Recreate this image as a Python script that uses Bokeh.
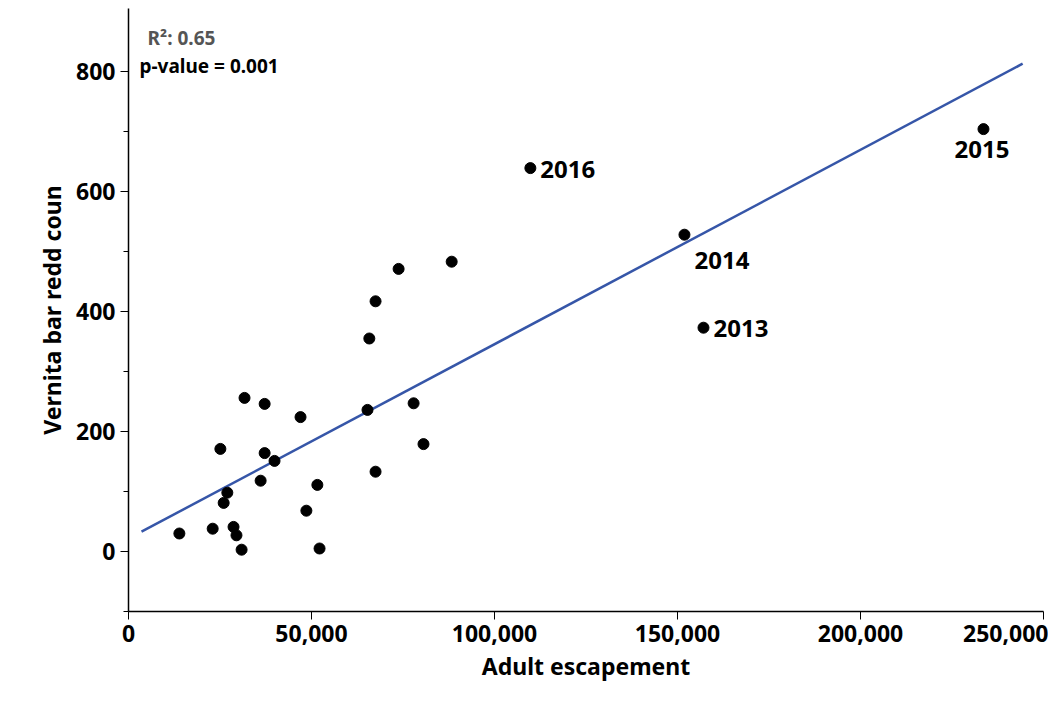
from bokeh.plotting import figure
from bokeh.models import Label, NumeralTickFormatter, FixedTicker, Range1d
from bokeh.embed import file_html
from bokeh.resources import INLINE

# escapement vs redd counts
esc = [13900, 23000, 25100, 26000, 27000, 28700, 29500, 30900, 31700, 36100,
       37200, 37200, 39900, 47000, 48600, 51600, 52200, 65300, 65800, 67500,
       67500, 73800, 77900, 80600, 88300, 109800, 151900, 157100, 233600]
redds = [30, 38, 171, 81, 98, 41, 27, 3, 256, 118,
         246, 164, 151, 224, 68, 111, 5, 236, 355, 417,
         133, 471, 247, 179, 483, 639, 528, 373, 704]

fit_x = [3550, 244300]
fit_y = [33, 813]

years = ["2016", "2014", "2013", "2015"]
year_x = [109800, 151900, 157100, 233600]
year_y = [639, 528, 373, 704]
FONT = "Noto Sans"

p = figure(width=1048, height=690, output_backend="svg", toolbar_location=None,
           x_range=Range1d(0, 250000), y_range=Range1d(-100, 905),
           min_border_left=128, min_border_right=5, min_border_top=8, min_border_bottom=79)
p.outline_line_color = None
p.grid.visible = False

p.line(fit_x, fit_y, line_color="#3656a8", line_width=2.5)
p.scatter(esc, redds, size=11, color="black")

offsets = [(10, -1), (10, -26), (10, -1), (-29, -20)]
for t, x, y, (dx, dy) in zip(years, year_x, year_y, offsets):
    p.add_layout(Label(x=x, y=y, x_offset=dx, y_offset=dy, text=t, text_font=FONT,
                       text_font_style="bold", text_font_size="24px", text_baseline="middle",
                       text_color="black"))

p.add_layout(Label(x=5200, y=856, text="R²: 0.65", text_font=FONT, text_font_style="bold",
                   text_font_size="19px", text_color="#555555", text_baseline="middle"))
p.add_layout(Label(x=3000, y=810, text="p-value = 0.001", text_font=FONT, text_font_style="bold",
                   text_font_size="19px", text_color="black", text_baseline="middle"))

p.xaxis.ticker = FixedTicker(ticks=[0, 50000, 100000, 150000, 200000, 250000])
p.xaxis.formatter = NumeralTickFormatter(format="0,0")
p.yaxis.ticker = FixedTicker(ticks=[0, 200, 400, 600, 800],
                             minor_ticks=[-100, 100, 300, 500, 700])
p.xaxis.axis_label = "Adult escapement"
p.yaxis.axis_label = "Vernita bar redd coun"
for ax in (p.xaxis, p.yaxis):
    ax.axis_label_text_font = FONT
    ax.axis_label_text_font_style = "bold"
    ax.axis_label_text_font_size = "23px"
    ax.axis_label_text_color = "black"
    ax.major_label_text_font = FONT
    ax.major_label_text_font_style = "bold"
    ax.major_label_text_font_size = "23px"
    ax.major_label_text_color = "black"
    ax.axis_line_color = "black"
    ax.axis_line_width = 1.5
    ax.major_tick_in = 0
    ax.major_tick_out = 8
    ax.minor_tick_in = 0
    ax.minor_tick_out = 5
    ax.major_tick_line_color = "black"
    ax.minor_tick_line_color = "black"
p.xaxis.minor_tick_line_color = None

open("out.html", "w").write(file_html(p, INLINE))
